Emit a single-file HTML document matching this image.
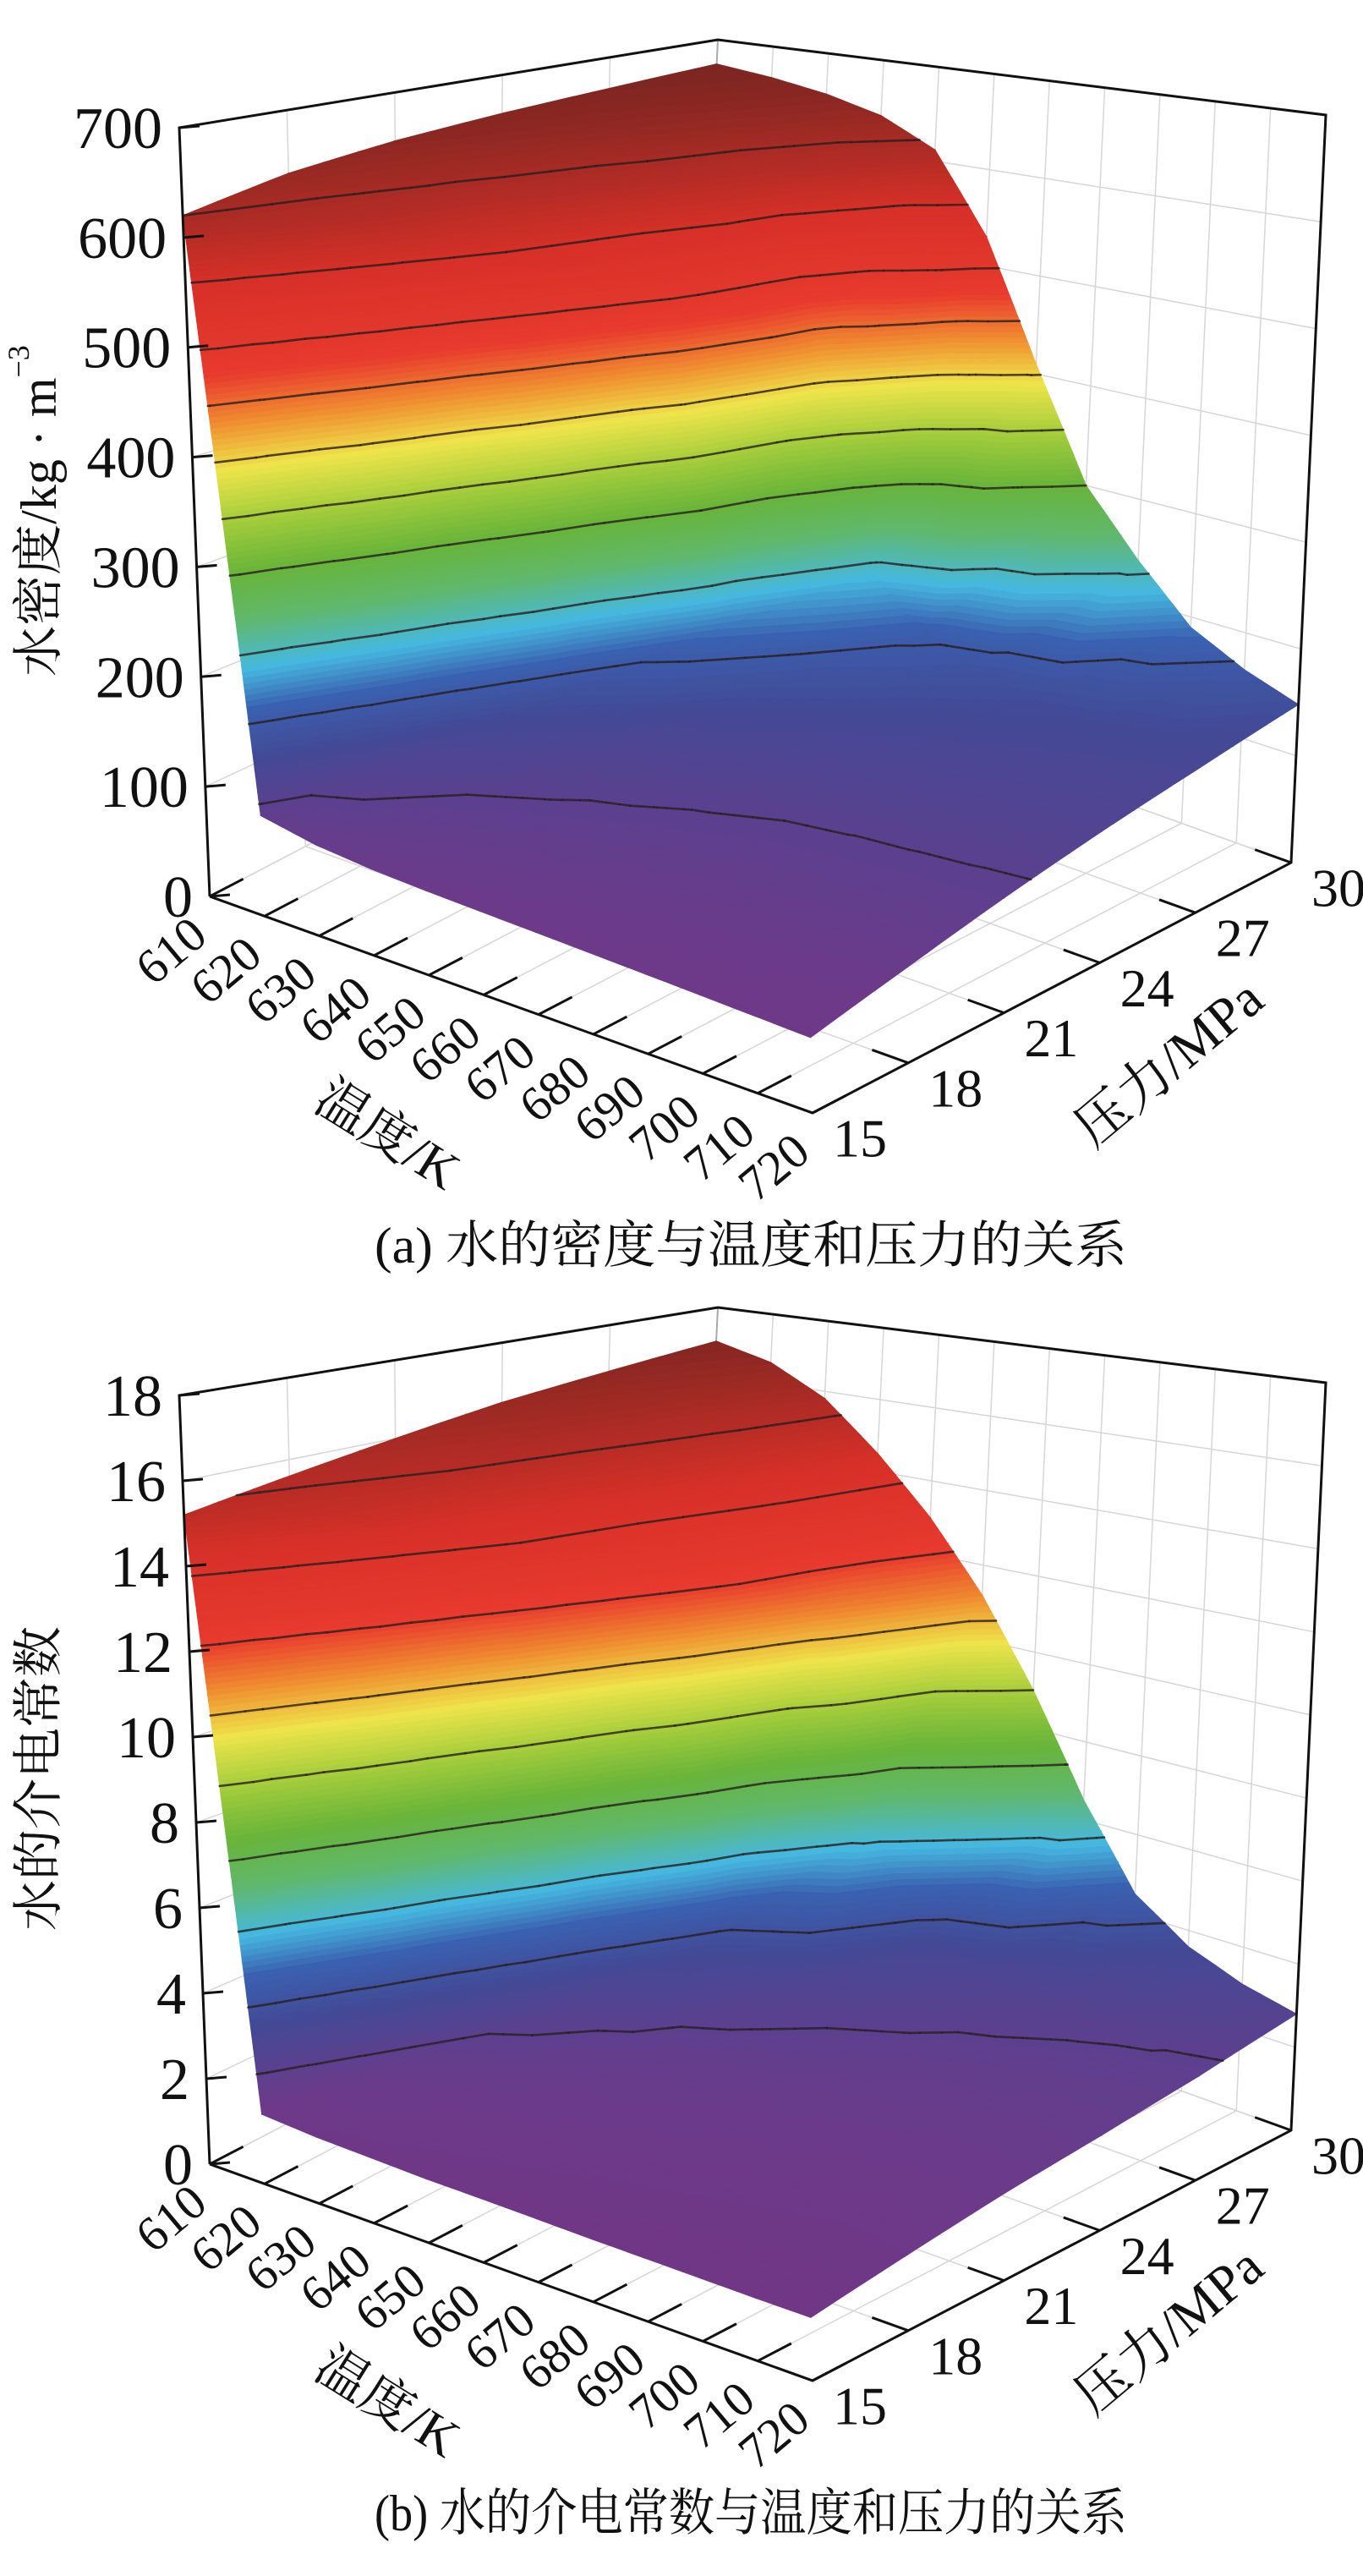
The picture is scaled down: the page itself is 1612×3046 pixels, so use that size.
<!DOCTYPE html>
<html><head><meta charset="utf-8"><style>
html,body{margin:0;padding:0;background:#fff;}
svg{display:block;}
text{font-family:"Liberation Serif","Noto Serif CJK SC","Noto Sans CJK SC",serif;fill:#111;}
</style></head><body>
<svg id="fig" width="1612" height="3046" viewBox="0 0 1612 3046" xmlns="http://www.w3.org/2000/svg"></svg>
<script>
// ---- data ----
const temperatures = [610,620,630,640,650,660,670,680,690,700,710,720];
const pressures = [15,18,21,24,27,30];
const densityP15 = [620,90,80,75,72,70,68,66,64,62,60,58];
const densityP18 = [640,600,120,100,92,88,85,82,80,79,77,76];
const densityP21 = [652,625,560,150,120,110,104,100,98,97,96,95];
const densityP24 = [660,645,610,520,190,150,135,126,121,117,115,113];
const densityP27 = [666,655,640,590,420,220,175,155,145,138,134,130];
const densityP30 = [672,665,655,640,612,530,410,300,240,190,165,148];
const dielP15 = [15.2,1.6,1.5,1.45,1.4,1.38,1.35,1.32,1.3,1.28,1.26,1.25];
const dielP18 = [15.6,14.9,2.2,1.9,1.8,1.72,1.66,1.6,1.56,1.52,1.5,1.55];
const dielP21 = [16.0,15.4,13.9,2.8,2.3,2.1,1.98,1.9,1.84,1.8,1.78,1.85];
const dielP24 = [16.4,15.9,14.7,12.8,3.8,2.8,2.5,2.3,2.2,2.12,2.08,2.1];
const dielP27 = [16.7,16.2,15.3,13.9,11.5,6.0,3.6,3.0,2.7,2.55,2.45,2.4];
const dielP30 = [17.0,16.6,15.8,14.5,13.0,11.2,9.0,6.5,4.5,3.6,3.1,2.8];
const densityTicks = [0,100,200,300,400,500,600,700];
const dielTicks = [0,2,4,6,8,10,12,14,16,18];
const densityLevels = [100,170,230,300,350,400,450,500,560,620];
const dielLevels = [2.5,4,5.7,7.3,9,10.6,12.2,13.8,15.4];

const NS='http://www.w3.org/2000/svg';
const svg=document.getElementById('fig');
function mk(tag,attrs,parent){const e=document.createElementNS(NS,tag);for(const k in attrs)e.setAttribute(k,attrs[k]);(parent||svg).appendChild(e);return e;}

const stops=[[0,[122,44,122]],[0.1,[108,58,138]],[0.2,[66,74,150]],[0.26,[58,96,176]],[0.31,[70,184,224]],[0.37,[96,184,110]],[0.43,[104,180,58]],[0.5,[168,206,60]],[0.56,[238,228,74]],[0.62,[240,140,48]],[0.68,[232,58,46]],[0.8,[214,48,40]],[0.9,[160,42,36]],[1.0,[100,34,32]]];
function cmap(f){f=Math.max(0,Math.min(1,f));for(let i=1;i<stops.length;i++){if(f<=stops[i][0]){const a=stops[i-1],b=stops[i];const t=(f-a[0])/(b[0]-a[0]);const c=a[1].map((x,j)=>Math.round(x+(b[1][j]-x)*t));return `rgb(${c[0]},${c[1]},${c[2]})`;}}return 'rgb(100,34,32)';}

function clipZ(poly,lim,sign){const out=[];for(let k=0;k<poly.length;k++){const a=poly[k],b=poly[(k+1)%poly.length];const ia=sign*(a[2]-lim)>=0,ib=sign*(b[2]-lim)>=0;if(ia)out.push(a);if(ia!==ib){const q=(lim-a[2])/(b[2]-a[2]);out.push([a[0]+(b[0]-a[0])*q,a[1]+(b[1]-a[1])*q,lim]);}}return out;}

function drawChart(id,dy,grid,zmax,ticks,levels,ytitle,caption){
  const g=mk('g',{});
  
  
  const fL=[248,1060+dy],fF=[961,1316+dy],fR=[1527,1020+dy],fB=[814,764+dy];
  const tL=[212,151+dy],tR=[1568,136+dy],tB=[849,47+dy],tF=[931,240+dy];
  const bil=(c,u,v)=>[0,1].map(k=>c[0][k]*(1-u)*(1-v)+c[1][k]*u*(1-v)+c[2][k]*u*v+c[3][k]*(1-u)*v);
  const tx=T=>(T-610)/110, px=P=>(P-15)/15;
  function proj(u,v,z){const f=bil([fL,fF,fR,fB],u,v),t=bil([tL,tF,tR,tB],u,v);const w=z/zmax;return [f[0]+(t[0]-f[0])*w,f[1]+(t[1]-f[1])*w];}
  const pt=p=>p[0].toFixed(1)+','+p[1].toFixed(1);
  const wall=mk('g',{},g);
  
  
  const gl={stroke:'#d6d6d6','stroke-width':1.5,fill:'none'};
  temperatures.forEach(T=>{const u=tx(T);mk('line',Object.assign({x1:proj(u,1,0)[0],y1:proj(u,1,0)[1],x2:proj(u,1,zmax)[0],y2:proj(u,1,zmax)[1]},gl),wall);mk('line',Object.assign({x1:proj(u,0,0)[0],y1:proj(u,0,0)[1],x2:proj(u,1,0)[0],y2:proj(u,1,0)[1]},gl),wall);});
  pressures.forEach(P=>{const v=px(P);mk('line',Object.assign({x1:proj(0,v,0)[0],y1:proj(0,v,0)[1],x2:proj(0,v,zmax)[0],y2:proj(0,v,zmax)[1]},gl),wall);mk('line',Object.assign({x1:proj(0,v,0)[0],y1:proj(0,v,0)[1],x2:proj(1,v,0)[0],y2:proj(1,v,0)[1]},gl),wall);});
  ticks.forEach(z=>{mk('polyline',Object.assign({points:pt(proj(0,0,z))+' '+pt(proj(0,1,z))+' '+pt(proj(1,1,z))},gl),wall);});
  mk('line',{x1:fB[0],y1:fB[1],x2:tB[0],y2:tB[1],stroke:'#aaa','stroke-width':2},wall);
  const surf=mk('g',{},g);
  
  
  const nT=temperatures.length,nP=pressures.length,S=3;
  const tris=[];
  function addTri(A,B,C){
    for(let a=0;a<S;a++)for(let b=0;b<S-a;b++){
      const mkp=(x,y)=>{const w=1-x-y;return [A[0]*w+B[0]*x+C[0]*y,A[1]*w+B[1]*x+C[1]*y,A[2]*w+B[2]*x+C[2]*y];};
      const p1=mkp(a/S,b/S),p2=mkp((a+1)/S,b/S),p3=mkp(a/S,(b+1)/S);
      tris.push([p1,p2,p3]);
      if(a+b<S-1){const p4=mkp((a+1)/S,(b+1)/S);tris.push([p2,p4,p3]);}
    }
  }
  for(let j=0;j<nP-1;j++)for(let i=0;i<nT-1;i++){
    const u0=tx(temperatures[i]),u1=tx(temperatures[i+1]),v0=px(pressures[j]),v1=px(pressures[j+1]);
    const c00=[u0,v0,grid[j][i]],c10=[u1,v0,grid[j][i+1]],c01=[u0,v1,grid[j+1][i]],c11=[u1,v1,grid[j+1][i+1]];
    addTri(c00,c11,c01);
    addTri(c00,c10,c11);
  }
  tris.forEach(t=>{t.key=(t[0][0]+t[1][0]+t[2][0])-(t[0][1]+t[1][1]+t[2][1]);});
  tris.sort((a,b)=>a.key-b.key);
  const NB=140, step=zmax/NB;
  let html='',lines='';
  tris.forEach(t=>{
    const zs=t.map(p=>p[2]);
    const lo=Math.floor(Math.min(...zs)/step),hi=Math.floor(Math.max(...zs)/step);
    for(let k=lo;k<=hi;k++){
      let poly=clipZ(t,k*step,1);if(poly.length<3)continue;
      poly=clipZ(poly,(k+1)*step,-1);if(poly.length<3)continue;
      const col=cmap((k+0.5)/NB);
      html+=`<polygon points="${poly.map(p=>pt(proj(p[0],p[1],p[2]))).join(' ')}" fill="${col}" stroke="${col}" stroke-width="1"/>`;
    }
    const ps=t.map(p=>proj(p[0],p[1],p[2]));
    levels.forEach(L0=>{const L=L0+zmax*1e-6;const xs=[];for(let k=0;k<3;k++){const za=zs[k],zc=zs[(k+1)%3];if((za-L)*(zc-L)<0){const q=(L-za)/(zc-za);const pa=ps[k],pc=ps[(k+1)%3];xs.push([pa[0]+(pc[0]-pa[0])*q,pa[1]+(pc[1]-pa[1])*q]);}}
      if(xs.length>=2)lines+=`<line x1="${xs[0][0].toFixed(1)}" y1="${xs[0][1].toFixed(1)}" x2="${xs[1][0].toFixed(1)}" y2="${xs[1][1].toFixed(1)}" stroke="rgba(40,30,30,0.8)" stroke-width="2.6" stroke-linecap="round"/>`;});
  });
  surf.innerHTML=html+lines;
  const ax=mk('g',{},g);
  
  
  const bl={stroke:'#111','stroke-width':3,fill:'none'};
  mk('polyline',Object.assign({points:[fL,tL,tB,tR,fR,fF,fL].map(pt).join(' ')},bl),ax);
  ticks.forEach(z=>{const p=proj(0,0,z);mk('line',{x1:p[0],y1:p[1],x2:p[0]+24,y2:p[1]-2,stroke:'#111','stroke-width':3},ax);
    const t=mk('text',{x:p[0]-20,y:p[1]+24,'font-size':70,'text-anchor':'end'},ax);t.textContent=z;
    
    });
  temperatures.forEach(T=>{const p=proj(tx(T),0,0),q=proj(tx(T),0.07,0);mk('line',{x1:p[0],y1:p[1],x2:q[0],y2:q[1],stroke:'#111','stroke-width':3},ax);
    const t=mk('text',{x:0,y:0,'font-size':58,'text-anchor':'middle','dominant-baseline':'central',transform:`translate(${p[0]-46},${p[1]+64}) rotate(-40)`},ax);t.textContent=T;
    
    });
  pressures.forEach(P=>{const p=proj(1,px(P),0),q=proj(0.94,px(P),0);mk('line',{x1:p[0],y1:p[1],x2:q[0],y2:q[1],stroke:'#111','stroke-width':3},ax);
    const t=mk('text',{x:p[0]+56,y:p[1]+30,'font-size':64,'text-anchor':'middle','dominant-baseline':'central'},ax);t.textContent=P;
    
    });
  let t=mk('text',{x:0,y:0,'font-size':62,'text-anchor':'middle','dominant-baseline':'central',transform:`translate(458,${1342+dy}) rotate(32)`},g);t.textContent='温度/K';
  
  
  t=mk('text',{x:0,y:0,'font-size':64,'text-anchor':'middle','dominant-baseline':'central',transform:`translate(1382,${1257+dy}) rotate(-40)`},g);t.textContent='压力/MPa';
  
  
  t=mk('text',{x:0,y:0,'font-size':60,'text-anchor':'middle','dominant-baseline':'central',transform:`translate(46,${604+dy}) rotate(-90)`},g);t.innerHTML=ytitle;
  
  
  t=mk('text',{x:888,y:1473+dy,'font-size':60,'text-anchor':'middle','dominant-baseline':'central',textLength:890,lengthAdjust:'spacingAndGlyphs'},g);t.textContent=caption;
  
  
}
drawChart('density-chart',0,[densityP15,densityP18,densityP21,densityP24,densityP27,densityP30],700,densityTicks,densityLevels,'水密度/kg · m<tspan dy="-24" font-size="36">−3</tspan>','(a) 水的密度与温度和压力的关系');
drawChart('dielectric-chart',1499,[dielP15,dielP18,dielP21,dielP24,dielP27,dielP30],18,dielTicks,dielLevels,'水的介电常数','(b) 水的介电常数与温度和压力的关系');
</script>
</body></html>
